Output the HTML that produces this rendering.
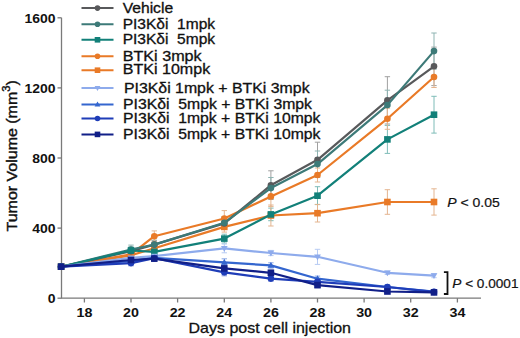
<!DOCTYPE html>
<html><head><meta charset="utf-8"><style>
html,body{margin:0;padding:0;background:#fff;width:520px;height:338px;overflow:hidden}
svg{display:block}
text{font-family:"Liberation Sans",sans-serif}
</style></head><body>
<svg width="520" height="338" viewBox="0 0 520 338"><g stroke="#7a7a7a" stroke-width="1.3" fill="none">
<path d="M61.5 17.8V298.2H481"/>
<path d="M57.5 298.2H61.5"/>
<path d="M57.5 228.1H61.5"/>
<path d="M57.5 158.0H61.5"/>
<path d="M57.5 87.9H61.5"/>
<path d="M57.5 17.8H61.5"/>
<path d="M84.4 298.2V302.5"/>
<path d="M131.0 298.2V302.5"/>
<path d="M177.6 298.2V302.5"/>
<path d="M224.3 298.2V302.5"/>
<path d="M270.9 298.2V302.5"/>
<path d="M317.5 298.2V302.5"/>
<path d="M364.1 298.2V302.5"/>
<path d="M410.7 298.2V302.5"/>
<path d="M457.4 298.2V302.5"/>
</g>
<g font-family="Liberation Sans" font-weight="bold" font-size="13" fill="#111" text-anchor="end">
<text x="55.6" y="302.9" textLength="7.75" lengthAdjust="spacingAndGlyphs">0</text>
<text x="55.6" y="232.8" textLength="23.25" lengthAdjust="spacingAndGlyphs">400</text>
<text x="55.6" y="162.7" textLength="23.25" lengthAdjust="spacingAndGlyphs">800</text>
<text x="55.6" y="92.6" textLength="31.00" lengthAdjust="spacingAndGlyphs">1200</text>
<text x="55.6" y="22.5" textLength="31.00" lengthAdjust="spacingAndGlyphs">1600</text>
</g>
<g font-family="Liberation Sans" font-weight="bold" font-size="13" fill="#111" text-anchor="middle">
<text x="84.4" y="316.6" textLength="15.9" lengthAdjust="spacingAndGlyphs">18</text>
<text x="131.0" y="316.6" textLength="15.9" lengthAdjust="spacingAndGlyphs">20</text>
<text x="177.6" y="316.6" textLength="15.9" lengthAdjust="spacingAndGlyphs">22</text>
<text x="224.3" y="316.6" textLength="15.9" lengthAdjust="spacingAndGlyphs">24</text>
<text x="270.9" y="316.6" textLength="15.9" lengthAdjust="spacingAndGlyphs">26</text>
<text x="317.5" y="316.6" textLength="15.9" lengthAdjust="spacingAndGlyphs">28</text>
<text x="364.1" y="316.6" textLength="15.9" lengthAdjust="spacingAndGlyphs">30</text>
<text x="410.7" y="316.6" textLength="15.9" lengthAdjust="spacingAndGlyphs">32</text>
<text x="457.4" y="316.6" textLength="15.9" lengthAdjust="spacingAndGlyphs">34</text>
</g>
<text x="188.6" y="333.1" font-family="Liberation Sans" font-size="15" fill="#111" stroke="#111" stroke-width="0.3" textLength="162.4" lengthAdjust="spacingAndGlyphs">Days post cell injection</text>
<text transform="translate(17 231.5) rotate(-90)" font-family="Liberation Sans" font-size="15" fill="#111" stroke="#111" stroke-width="0.4" textLength="151.3" lengthAdjust="spacingAndGlyphs">Tumor Volume (mm<tspan font-size="10.5" dy="-7.2">3</tspan><tspan dy="7.2">)</tspan></text>
<path d="M131.0 247.4V255.1M128.3 247.4H133.7M128.3 255.1H133.7M154.3 240.7V248.4M151.6 240.7H157.0M151.6 248.4H157.0M224.3 217.2V229.5M221.6 217.2H227.0M221.6 229.5H227.0M270.9 170.8V199.5M268.2 170.8H273.6M268.2 199.5H273.6M317.5 142.2V177.3M314.8 142.2H320.2M314.8 177.3H320.2M387.4 76.7V124.0M384.7 76.7H390.1M384.7 124.0H390.1M434.0 47.1V85.6M431.3 47.1H436.7M431.3 85.6H436.7" stroke="#a0a0a0" stroke-width="1" fill="none"/>
<path d="M131.0 245.1V253.9M128.3 245.1H133.7M128.3 253.9H133.7M154.3 240.2V249.0M151.6 240.2H157.0M151.6 249.0H157.0M224.3 216.7V229.0M221.6 216.7H227.0M221.6 229.0H227.0M270.9 177.5V198.8M268.2 177.5H273.6M268.2 198.8H273.6M317.5 151.0V177.3M314.8 151.0H320.2M314.8 177.3H320.2M387.4 90.2V120.0M384.7 90.2H390.1M384.7 120.0H390.1M434.0 33.0V69.1M431.3 33.0H436.7M431.3 69.1H436.7" stroke="#8fb4b2" stroke-width="1" fill="none"/>
<path d="M131.0 247.0V254.0M128.3 247.0H133.7M128.3 254.0H133.7M154.3 248.3V255.3M151.6 248.3H157.0M151.6 255.3H157.0M224.3 234.2V243.0M221.6 234.2H227.0M221.6 243.0H227.0M270.9 208.1V220.7M268.2 208.1H273.6M268.2 220.7H273.6M317.5 186.7V204.6M314.8 186.7H320.2M314.8 204.6H320.2M387.4 125.4V153.4M384.7 125.4H390.1M384.7 153.4H390.1M434.0 96.3V133.1M431.3 96.3H436.7M431.3 133.1H436.7" stroke="#7fbcb8" stroke-width="1" fill="none"/>
<path d="M131.0 250.9V257.9M128.3 250.9H133.7M128.3 257.9H133.7M154.3 230.9V241.4M151.6 230.9H157.0M151.6 241.4H157.0M224.3 210.6V226.3M221.6 210.6H227.0M221.6 226.3H227.0M270.9 186.4V206.4M268.2 186.4H273.6M268.2 206.4H273.6M317.5 168.0V182.0M314.8 168.0H320.2M314.8 182.0H320.2M387.4 108.2V129.3M384.7 108.2H390.1M384.7 129.3H390.1M434.0 66.5V87.5M431.3 66.5H436.7M431.3 87.5H436.7" stroke="#e4b590" stroke-width="1" fill="none"/>
<path d="M131.0 251.8V258.8M128.3 251.8H133.7M128.3 258.8H133.7M154.3 244.7V251.8M151.6 244.7H157.0M151.6 251.8H157.0M224.3 221.6V232.1M221.6 221.6H227.0M221.6 232.1H227.0M270.9 205.0V226.0M268.2 205.0H273.6M268.2 226.0H273.6M317.5 204.4V222.0M314.8 204.4H320.2M314.8 222.0H320.2M387.4 189.7V214.3M384.7 189.7H390.1M384.7 214.3H390.1M434.0 188.8V215.1M431.3 188.8H436.7M431.3 215.1H436.7" stroke="#e4b590" stroke-width="1" fill="none"/>
<path d="M131.0 255.3V260.5M128.3 255.3H133.7M128.3 260.5H133.7M154.3 253.5V258.8M151.6 253.5H157.0M151.6 258.8H157.0M224.3 244.0V252.8M221.6 244.0H227.0M221.6 252.8H227.0M270.9 250.4V255.6M268.2 250.4H273.6M268.2 255.6H273.6M317.5 249.3V264.4M314.8 249.3H320.2M314.8 264.4H320.2M387.4 271.0V274.5M384.7 271.0H390.1M384.7 274.5H390.1M434.0 273.5V277.7M431.3 273.5H436.7M431.3 277.7H436.7" stroke="#b7cbf3" stroke-width="1" fill="none"/>
<path d="M131.0 258.4V263.7M128.3 258.4H133.7M128.3 263.7H133.7M154.3 255.3V260.5M151.6 255.3H157.0M151.6 260.5H157.0M224.3 258.8V265.8M221.6 258.8H227.0M221.6 265.8H227.0M270.9 262.8V268.1M268.2 262.8H273.6M268.2 268.1H273.6M317.5 276.1V281.4M314.8 276.1H320.2M314.8 281.4H320.2M387.4 285.2V288.7M384.7 285.2H390.1M384.7 288.7H390.1M434.0 290.0V293.5M431.3 290.0H436.7M431.3 293.5H436.7" stroke="#8aa8e6" stroke-width="1" fill="none"/>
<path d="M131.0 260.5V265.8M128.3 260.5H133.7M128.3 265.8H133.7M154.3 255.6V260.9M151.6 255.6H157.0M151.6 260.9H157.0M224.3 268.8V275.8M221.6 268.8H227.0M221.6 275.8H227.0M270.9 275.9V281.2M268.2 275.9H273.6M268.2 281.2H273.6M317.5 279.3V284.5M314.8 279.3H320.2M314.8 284.5H320.2M387.4 285.2V288.7M384.7 285.2H390.1M384.7 288.7H390.1M434.0 290.1V293.6M431.3 290.1H436.7M431.3 293.6H436.7" stroke="#7f90d8" stroke-width="1" fill="none"/>
<path d="M131.0 257.4V262.6M128.3 257.4H133.7M128.3 262.6H133.7M154.3 256.0V261.2M151.6 256.0H157.0M151.6 261.2H157.0M224.3 264.9V271.9M221.6 264.9H227.0M221.6 271.9H227.0M270.9 270.2V275.4M268.2 270.2H273.6M268.2 275.4H273.6M317.5 282.4V287.7M314.8 282.4H320.2M314.8 287.7H320.2M387.4 289.8V293.3M384.7 289.8H390.1M384.7 293.3H390.1M434.0 290.7V294.2M431.3 290.7H436.7M431.3 294.2H436.7" stroke="#7a82c0" stroke-width="1" fill="none"/>
<polyline points="61.1,266.7 131.0,255.3 154.3,248.3 224.3,226.9 270.9,215.5 317.5,213.2 387.4,202.0 434.0,202.0" stroke="#e97a27" stroke-width="2.2" fill="none" stroke-linejoin="round"/>
<rect x="57.8" y="263.4" width="6.6" height="6.6" fill="#e97a27"/>
<rect x="127.7" y="252.0" width="6.6" height="6.6" fill="#e97a27"/>
<rect x="151.0" y="245.0" width="6.6" height="6.6" fill="#e97a27"/>
<rect x="221.0" y="223.6" width="6.6" height="6.6" fill="#e97a27"/>
<rect x="267.6" y="212.2" width="6.6" height="6.6" fill="#e97a27"/>
<rect x="314.2" y="209.9" width="6.6" height="6.6" fill="#e97a27"/>
<rect x="384.1" y="198.7" width="6.6" height="6.6" fill="#e97a27"/>
<rect x="430.7" y="198.7" width="6.6" height="6.6" fill="#e97a27"/>
<polyline points="61.1,266.7 131.0,254.4 154.3,236.2 224.3,218.5 270.9,196.4 317.5,175.0 387.4,118.7 434.0,77.0" stroke="#e97a27" stroke-width="2.2" fill="none" stroke-linejoin="round"/>
<circle cx="61.1" cy="266.7" r="3.30" fill="#e97a27"/>
<circle cx="131.0" cy="254.4" r="3.30" fill="#e97a27"/>
<circle cx="154.3" cy="236.2" r="3.30" fill="#e97a27"/>
<circle cx="224.3" cy="218.5" r="3.30" fill="#e97a27"/>
<circle cx="270.9" cy="196.4" r="3.30" fill="#e97a27"/>
<circle cx="317.5" cy="175.0" r="3.30" fill="#e97a27"/>
<circle cx="387.4" cy="118.7" r="3.30" fill="#e97a27"/>
<circle cx="434.0" cy="77.0" r="3.30" fill="#e97a27"/>
<polyline points="61.1,266.7 131.0,251.2 154.3,244.6 224.3,223.4 270.9,185.2 317.5,159.8 387.4,100.3 434.0,66.3" stroke="#58595b" stroke-width="2.2" fill="none" stroke-linejoin="round"/>
<circle cx="61.1" cy="266.7" r="3.30" fill="#58595b"/>
<circle cx="131.0" cy="251.2" r="3.30" fill="#58595b"/>
<circle cx="154.3" cy="244.6" r="3.30" fill="#58595b"/>
<circle cx="224.3" cy="223.4" r="3.30" fill="#58595b"/>
<circle cx="270.9" cy="185.2" r="3.30" fill="#58595b"/>
<circle cx="317.5" cy="159.8" r="3.30" fill="#58595b"/>
<circle cx="387.4" cy="100.3" r="3.30" fill="#58595b"/>
<circle cx="434.0" cy="66.3" r="3.30" fill="#58595b"/>
<polyline points="61.1,266.7 131.0,249.5 154.3,244.6 224.3,222.8 270.9,188.1 317.5,164.1 387.4,105.1 434.0,51.1" stroke="#3d7a78" stroke-width="2.2" fill="none" stroke-linejoin="round"/>
<circle cx="61.1" cy="266.7" r="3.30" fill="#3d7a78"/>
<circle cx="131.0" cy="249.5" r="3.30" fill="#3d7a78"/>
<circle cx="154.3" cy="244.6" r="3.30" fill="#3d7a78"/>
<circle cx="224.3" cy="222.8" r="3.30" fill="#3d7a78"/>
<circle cx="270.9" cy="188.1" r="3.30" fill="#3d7a78"/>
<circle cx="317.5" cy="164.1" r="3.30" fill="#3d7a78"/>
<circle cx="387.4" cy="105.1" r="3.30" fill="#3d7a78"/>
<circle cx="434.0" cy="51.1" r="3.30" fill="#3d7a78"/>
<polyline points="61.1,266.7 131.0,250.5 154.3,251.8 224.3,238.6 270.9,214.4 317.5,195.7 387.4,139.4 434.0,114.7" stroke="#128079" stroke-width="2.2" fill="none" stroke-linejoin="round"/>
<rect x="57.8" y="263.4" width="6.6" height="6.6" fill="#128079"/>
<rect x="127.7" y="247.2" width="6.6" height="6.6" fill="#128079"/>
<rect x="151.0" y="248.5" width="6.6" height="6.6" fill="#128079"/>
<rect x="221.0" y="235.3" width="6.6" height="6.6" fill="#128079"/>
<rect x="267.6" y="211.1" width="6.6" height="6.6" fill="#128079"/>
<rect x="314.2" y="192.4" width="6.6" height="6.6" fill="#128079"/>
<rect x="384.1" y="136.1" width="6.6" height="6.6" fill="#128079"/>
<rect x="430.7" y="111.4" width="6.6" height="6.6" fill="#128079"/>
<polyline points="61.1,266.7 131.0,257.9 154.3,256.1 224.3,248.4 270.9,253.0 317.5,256.8 387.4,272.8 434.0,275.6" stroke="#8eabec" stroke-width="2.2" fill="none" stroke-linejoin="round"/>
<path d="M61.1 270.1L64.5 264.3L57.7 264.3Z" fill="#8eabec"/>
<path d="M131.0 261.3L134.4 255.5L127.6 255.5Z" fill="#8eabec"/>
<path d="M154.3 259.5L157.7 253.8L150.9 253.8Z" fill="#8eabec"/>
<path d="M224.3 251.8L227.7 246.0L220.9 246.0Z" fill="#8eabec"/>
<path d="M270.9 256.4L274.3 250.6L267.5 250.6Z" fill="#8eabec"/>
<path d="M317.5 260.2L320.9 254.5L314.1 254.5Z" fill="#8eabec"/>
<path d="M387.4 276.2L390.8 270.4L384.0 270.4Z" fill="#8eabec"/>
<path d="M434.0 279.0L437.4 273.2L430.6 273.2Z" fill="#8eabec"/>
<polyline points="61.1,266.7 131.0,261.0 154.3,257.9 224.3,262.3 270.9,265.4 317.5,278.7 387.4,287.0 434.0,291.7" stroke="#3466cf" stroke-width="2.2" fill="none" stroke-linejoin="round"/>
<path d="M61.1 263.3L64.5 269.0L57.7 269.0Z" fill="#3466cf"/>
<path d="M131.0 257.6L134.4 263.4L127.6 263.4Z" fill="#3466cf"/>
<path d="M154.3 254.5L157.7 260.3L150.9 260.3Z" fill="#3466cf"/>
<path d="M224.3 258.9L227.7 264.7L220.9 264.7Z" fill="#3466cf"/>
<path d="M270.9 262.0L274.3 267.8L267.5 267.8Z" fill="#3466cf"/>
<path d="M317.5 275.3L320.9 281.1L314.1 281.1Z" fill="#3466cf"/>
<path d="M387.4 283.6L390.8 289.4L384.0 289.4Z" fill="#3466cf"/>
<path d="M434.0 288.3L437.4 294.1L430.6 294.1Z" fill="#3466cf"/>
<polyline points="61.1,266.7 131.0,263.1 154.3,258.2 224.3,272.3 270.9,278.6 317.5,281.9 387.4,287.0 434.0,291.9" stroke="#1f3db8" stroke-width="2.2" fill="none" stroke-linejoin="round"/>
<circle cx="61.1" cy="266.7" r="3.30" fill="#1f3db8"/>
<circle cx="131.0" cy="263.1" r="3.30" fill="#1f3db8"/>
<circle cx="154.3" cy="258.2" r="3.30" fill="#1f3db8"/>
<circle cx="224.3" cy="272.3" r="3.30" fill="#1f3db8"/>
<circle cx="270.9" cy="278.6" r="3.30" fill="#1f3db8"/>
<circle cx="317.5" cy="281.9" r="3.30" fill="#1f3db8"/>
<circle cx="387.4" cy="287.0" r="3.30" fill="#1f3db8"/>
<circle cx="434.0" cy="291.9" r="3.30" fill="#1f3db8"/>
<polyline points="61.1,266.7 131.0,260.0 154.3,258.6 224.3,268.4 270.9,272.8 317.5,285.1 387.4,291.5 434.0,292.4" stroke="#111f88" stroke-width="2.2" fill="none" stroke-linejoin="round"/>
<rect x="57.8" y="263.4" width="6.6" height="6.6" fill="#111f88"/>
<rect x="127.7" y="256.7" width="6.6" height="6.6" fill="#111f88"/>
<rect x="151.0" y="255.3" width="6.6" height="6.6" fill="#111f88"/>
<rect x="221.0" y="265.1" width="6.6" height="6.6" fill="#111f88"/>
<rect x="267.6" y="269.5" width="6.6" height="6.6" fill="#111f88"/>
<rect x="314.2" y="281.8" width="6.6" height="6.6" fill="#111f88"/>
<rect x="384.1" y="288.2" width="6.6" height="6.6" fill="#111f88"/>
<rect x="430.7" y="289.1" width="6.6" height="6.6" fill="#111f88"/>
<path d="M81.5 8.1H113.5" stroke="#58595b" stroke-width="2"/>
<circle cx="97.5" cy="8.1" r="2.80" fill="#58595b"/>
<text x="122.7" y="12.7" font-family="Liberation Sans" font-size="14" fill="#111" stroke="#111" stroke-width="0.3" textLength="50.4" lengthAdjust="spacingAndGlyphs">Vehicle</text>
<path d="M81.5 24.2H113.5" stroke="#3d7a78" stroke-width="2"/>
<circle cx="97.5" cy="24.2" r="2.80" fill="#3d7a78"/>
<text x="122.7" y="28.6" font-family="Liberation Sans" font-size="14" fill="#111" stroke="#111" stroke-width="0.3" textLength="92.4" lengthAdjust="spacingAndGlyphs">PI3Kδi&#160; 1mpk</text>
<path d="M81.5 39.8H113.5" stroke="#128079" stroke-width="2"/>
<rect x="94.7" y="37.0" width="5.6" height="5.6" fill="#128079"/>
<text x="122.7" y="44.3" font-family="Liberation Sans" font-size="14" fill="#111" stroke="#111" stroke-width="0.3" textLength="92.4" lengthAdjust="spacingAndGlyphs">PI3Kδi&#160; 5mpk</text>
<path d="M81.5 56.3H113.5" stroke="#e97a27" stroke-width="2"/>
<circle cx="97.5" cy="56.3" r="2.80" fill="#e97a27"/>
<text x="122.7" y="60.7" font-family="Liberation Sans" font-size="14" fill="#111" stroke="#111" stroke-width="0.3" textLength="79.0" lengthAdjust="spacingAndGlyphs">BTKi 3mpk</text>
<path d="M81.5 70.2H113.5" stroke="#e97a27" stroke-width="2"/>
<rect x="94.7" y="67.4" width="5.6" height="5.6" fill="#e97a27"/>
<text x="122.7" y="74.3" font-family="Liberation Sans" font-size="14" fill="#111" stroke="#111" stroke-width="0.3" textLength="87.5" lengthAdjust="spacingAndGlyphs">BTKi 10mpk</text>
<path d="M81.5 88.1H113.5" stroke="#8eabec" stroke-width="2"/>
<path d="M97.5 91.0L100.4 86.1L94.6 86.1Z" fill="#8eabec"/>
<text x="123.9" y="92.8" font-family="Liberation Sans" font-size="14" fill="#111" stroke="#111" stroke-width="0.3" textLength="185.7" lengthAdjust="spacingAndGlyphs">PI3Kδi 1mpk + BTKi 3mpk</text>
<path d="M81.5 104.4H113.5" stroke="#3466cf" stroke-width="2"/>
<path d="M97.5 101.5L100.4 106.4L94.6 106.4Z" fill="#3466cf"/>
<text x="123.0" y="109.3" font-family="Liberation Sans" font-size="14" fill="#111" stroke="#111" stroke-width="0.3" textLength="189.0" lengthAdjust="spacingAndGlyphs">PI3Kδi&#160; 5mpk + BTKi 3mpk</text>
<path d="M81.5 118.5H113.5" stroke="#1f3db8" stroke-width="2"/>
<circle cx="97.5" cy="118.5" r="2.80" fill="#1f3db8"/>
<text x="123.0" y="122.6" font-family="Liberation Sans" font-size="14" fill="#111" stroke="#111" stroke-width="0.3" textLength="197.5" lengthAdjust="spacingAndGlyphs">PI3Kδi&#160; 1mpk + BTKi 10mpk</text>
<path d="M81.5 134.4H113.5" stroke="#111f88" stroke-width="2"/>
<rect x="94.7" y="131.6" width="5.6" height="5.6" fill="#111f88"/>
<text x="123.0" y="138.6" font-family="Liberation Sans" font-size="14" fill="#111" stroke="#111" stroke-width="0.3" textLength="197.5" lengthAdjust="spacingAndGlyphs">PI3Kδi&#160; 5mpk + BTKi 10mpk</text>
<text x="447.2" y="206.8" font-family="Liberation Sans" font-size="13.6" fill="#111" stroke="#111" stroke-width="0.2" textLength="52.6" lengthAdjust="spacingAndGlyphs"><tspan font-style="italic">P</tspan> &lt; 0.05</text>
<path d="M443.9 272.2H447.5V294H443.9" stroke="#111" stroke-width="1.8" fill="none"/>
<text x="452.3" y="287.8" font-family="Liberation Sans" font-size="13.6" fill="#111" stroke="#111" stroke-width="0.2"><tspan font-style="italic">P</tspan> &lt; 0.0001</text></svg>
</body></html>
